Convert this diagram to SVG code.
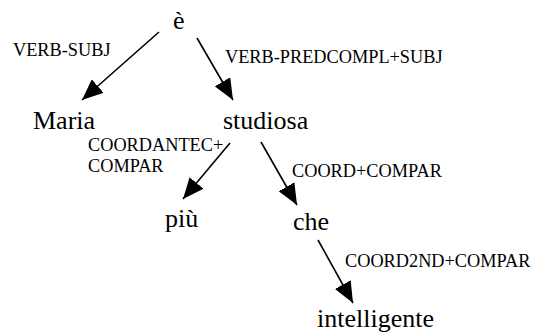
<svg xmlns="http://www.w3.org/2000/svg" width="538" height="334" viewBox="0 0 538 334">
<style>
.node{font-size:26px;fill:#000}
.lab{font-size:18.3px;fill:#000}
.edge{stroke:#000;stroke-width:1.6;fill:none;marker-end:url(#ah)}
</style>
<defs>
<marker id="ah" markerUnits="userSpaceOnUse" markerWidth="21" markerHeight="18" refX="21" refY="9" orient="auto">
<path d="M0,0 L21,9 L0,18 z" fill="#000"/>
</marker>
</defs>
<rect width="538" height="334" fill="#fff"/>
<g font-family="Liberation Serif, Times New Roman, serif">
<g id="connectors">
<line class="edge" x1="159" y1="32" x2="82" y2="100"/>
<line class="edge" x1="197" y1="38" x2="233" y2="100"/>
<line class="edge" x1="230" y1="143" x2="183" y2="199"/>
<line class="edge" x1="261" y1="142" x2="297" y2="205"/>
<line class="edge" x1="318" y1="240" x2="353" y2="303"/>
<text class="lab" x="13" y="56">VERB-SUBJ</text>
<text class="lab" x="225" y="63">VERB-PREDCOMPL+SUBJ</text>
<text class="lab" x="88" y="151">COORDANTEC+</text>
<text class="lab" x="88" y="171.5">COMPAR</text>
<text class="lab" x="292" y="177">COORD+COMPAR</text>
<text class="lab" x="345" y="267">COORD2ND+COMPAR</text>
</g>
<g id="n-e"><text class="node" x="173" y="29">è</text></g>
<g id="n-maria"><text class="node" x="33" y="129">Maria</text></g>
<g id="n-studiosa"><text class="node" x="223" y="129">studiosa</text></g>
<g id="n-piu"><text class="node" x="165" y="227">più</text></g>
<g id="n-che"><text class="node" x="293" y="230">che</text></g>
<g id="n-intelligente"><text class="node" x="317" y="327">intelligente</text></g>
</g>
</svg>
